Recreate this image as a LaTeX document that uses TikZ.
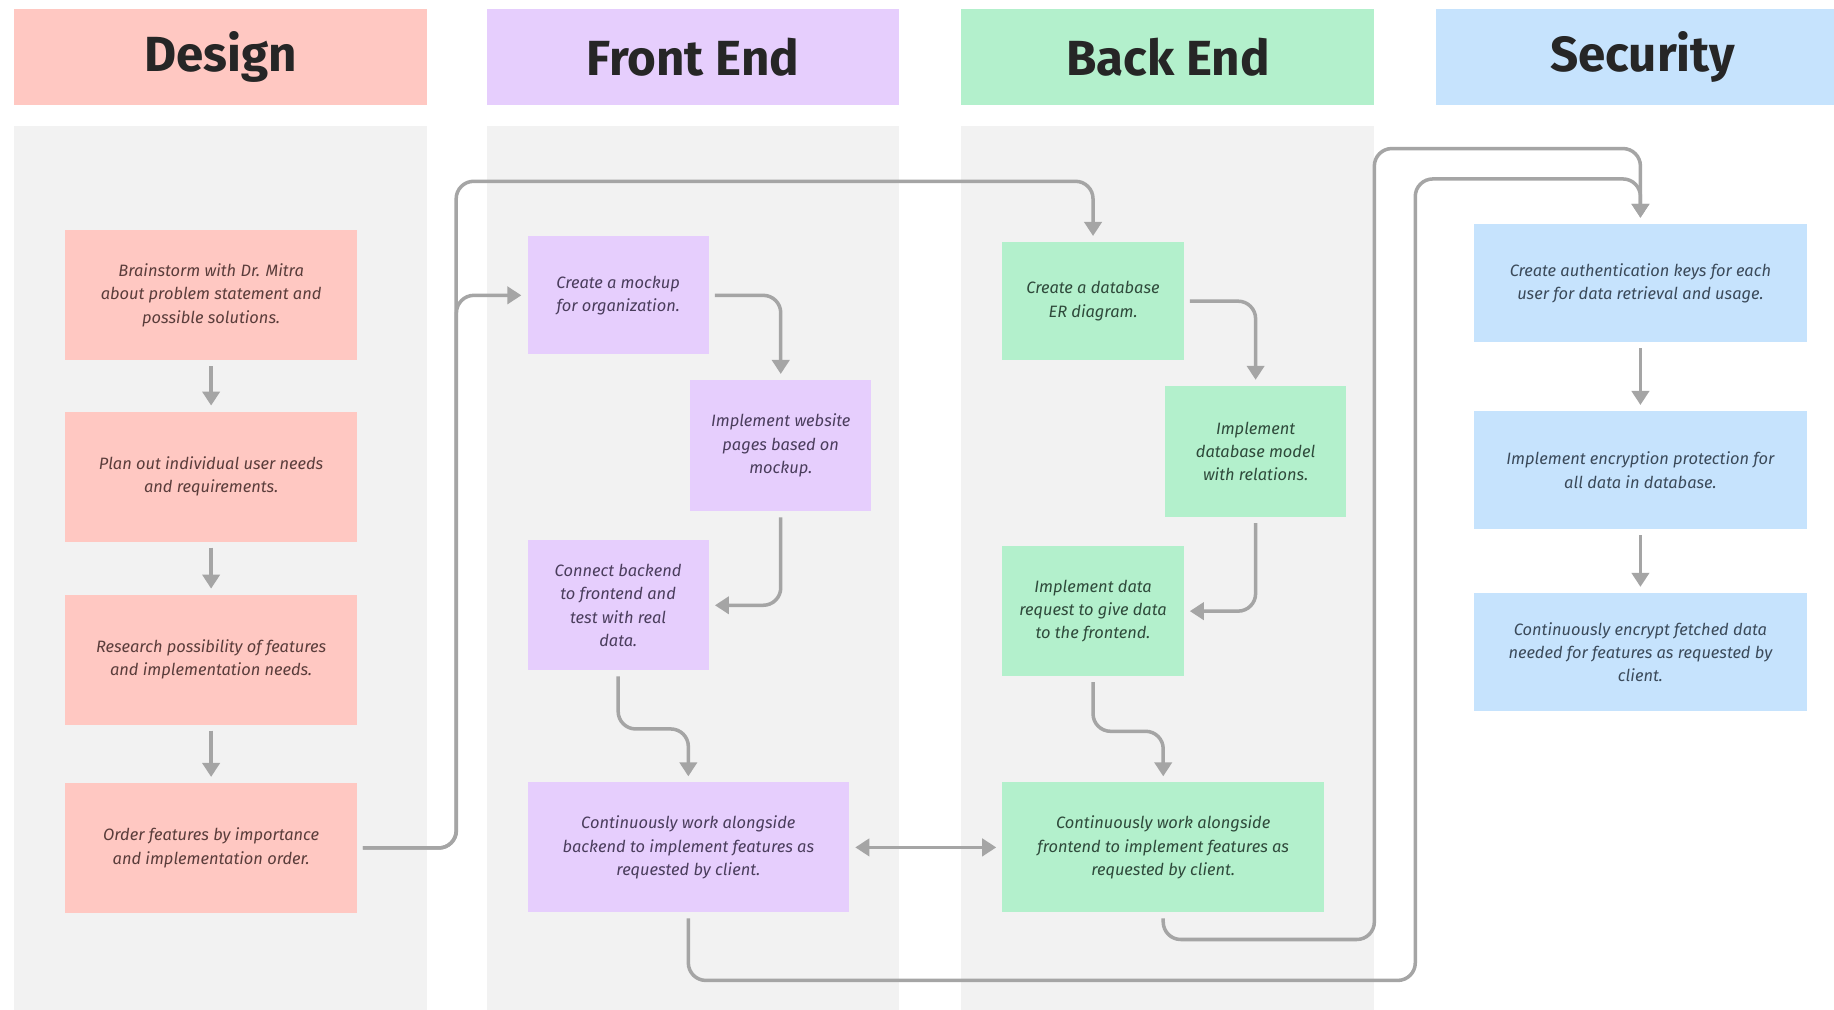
\documentclass[tikz,border=0pt]{standalone}
\usepackage{fontspec}
\setmainfont{Fira Sans}
\usepackage{xcolor}
\usepackage{tikz}
\usetikzlibrary{arrows.meta}
\usetikzlibrary{positioning}

\definecolor{designred}{HTML}{FFC8C2}
\definecolor{frontpurple}{HTML}{E6CEFD}
\definecolor{backgreen}{HTML}{B3F0CC}
\definecolor{securityblue}{HTML}{C6E3FD}
\definecolor{lanegrey}{HTML}{F2F2F2}
\definecolor{flowgrey}{HTML}{A5A5A5}
\definecolor{designink}{HTML}{5A3D3B}
\definecolor{frontink}{HTML}{4A3D5C}
\definecolor{backink}{HTML}{2F4A3B}
\definecolor{securityink}{HTML}{3B4A5A}

\tikzset{
header/.style = { rectangle, draw = none, minimum width = 105.9mm, minimum height = 24.6mm, font = \fontsize{36}{40}\selectfont\bfseries, text = black!85 },
card/.style = { rectangle, draw = none, align = center, font = \fontsize{12}{17}\selectfont\itshape },
design card/.style = { card, fill = designred, text = designink, minimum width = 74.7mm, minimum height = 33.3mm },
front card/.style = { card, fill = frontpurple, text = frontink, minimum width = 46.5mm, minimum height = 33.3mm },
back card/.style = { card, fill = backgreen, text = backink, minimum width = 46.5mm, minimum height = 33.3mm },
security card/.style = { card, fill = securityblue, text = securityink, minimum width = 85.5mm, minimum height = 30.3mm },
conn/.style = { draw = flowgrey, line width = 0.9mm, rounded corners = 4.5mm, shorten > = 1.5mm, shorten < = 1.5mm },
flow/.style = { conn, -{Triangle[length = 3.6mm, width = 4.4mm]} },
}

\begin{document}
\begin{tikzpicture}[x = 0.3mm, y = -0.3mm]
    \useasboundingbox (0, 0) rectangle (1568, 863);
    \clip (0, 0) rectangle (1568, 863);
    \fill[white] (0, 0) rectangle (1568, 863);

    % lanes
    \fill[lanegrey] (12, 108) rectangle (365, 870);
    \fill[lanegrey] (416, 108) rectangle (769, 870);
    \fill[lanegrey] (822, 108) rectangle (1175, 870);

    % headers
    \node[header, fill = designred] (hdesign) at (188.5, 49) {Design};
    \node[header, fill = frontpurple] (hfront) at (592.5, 49) {Front End};
    \node[header, fill = backgreen] (hback) at (998.5, 49) {Back End};
    \node[header, fill = securityblue] (hsecurity) at (1404.5, 49) {Security};

    % design
    \node[design card] (brainstorm) at (180.5, 252.5) {Brainstorm with Dr. Mitra\\about problem statement and\\possible solutions.};
    \node[design card] (plan) at (180.5, 407.5) {Plan out individual user needs\\and requirements.};
    \node[design card] (research) at (180.5, 564) {Research possibility of features\\and implementation needs.};
    \node[design card] (order) at (180.5, 725) {Order features by importance\\and implementation order.};

    % front end
    \node[front card, minimum height = 30.3mm] (mockup) at (528.5, 252.5) {Create a mockup\\for organization.};
    \node[front card, minimum height = 33.6mm] (pages) at (667.5, 381) {Implement website\\pages based on\\mockup.};
    \node[front card] (connect) at (528.5, 517.5) {Connect backend\\to frontend and\\test with real\\data.};
    \node[front card, minimum width = 82.5mm] (frontwork) at (588.5, 724.5) {Continuously work alongside\\backend to implement features as\\requested by client.};

    % back end
    \node[back card, minimum height = 30.3mm] (erdiagram) at (934.5, 257.5) {Create a database\\ER diagram.};
    \node[back card, minimum height = 33.6mm] (dbmodel) at (1073.5, 386) {Implement\\database model\\with relations.};
    \node[back card] (request) at (934.5, 522.5) {Implement data\\request to give data\\to the frontend.};
    \node[back card, minimum width = 82.5mm] (backwork) at (994.5, 724.5) {Continuously work alongside\\frontend to implement features as\\requested by client.};

    % security
    \node[security card] (authkeys) at (1402.5, 242) {Create authentication keys for each\\user for data retrieval and usage.};
    \node[security card] (encrypt) at (1402.5, 402) {Implement encryption protection for\\all data in database.};
    \node[security card] (fetched) at (1402.5, 557.5) {Continuously encrypt fetched data\\needed for features as requested by\\client.};

    \coordinate (busfront) at (390, 155);
    \coordinate (busback) at (1175, 127);
    \coordinate (busloop) at (1210, 153);

    \draw[flow] (brainstorm) -- (plan);
    \draw[flow] (plan) -- (research);
    \draw[flow] (research) -- (order);
    \draw[flow] (order.east) -- ++(85, 0) |- (mockup.west);
    \draw[flow] (order.east) -| (busfront) -| (erdiagram.north);

    \draw[flow] (mockup.east) -| (pages.north);
    \draw[flow] (pages.south) |- (connect.east);
    \draw[flow] (connect.south) -- ++(0, 50) -| (frontwork.north);
    \draw[conn, {Triangle[length = 3.6mm, width = 4.4mm]}-{Triangle[length = 3.6mm, width = 4.4mm]}] (frontwork.east) -- (backwork.west);

    \draw[flow] (erdiagram.east) -| (dbmodel.north);
    \draw[flow] (dbmodel.south) |- (request.east);
    \draw[flow] (request.south) -- ++(0, 47) -| (backwork.north);

    \draw[flow] (backwork.south) -- ++(0, 23) -| (busback) -| (authkeys.north);
    \draw[flow] (frontwork.south) -- ++(0, 58) -| (busloop) -| (authkeys.north);
    % \draw[flow] (busloop) -- (busback);
    \draw[flow] (authkeys) -- (encrypt);
    \draw[flow] (encrypt) -- (fetched);
\end{tikzpicture}
\end{document}
